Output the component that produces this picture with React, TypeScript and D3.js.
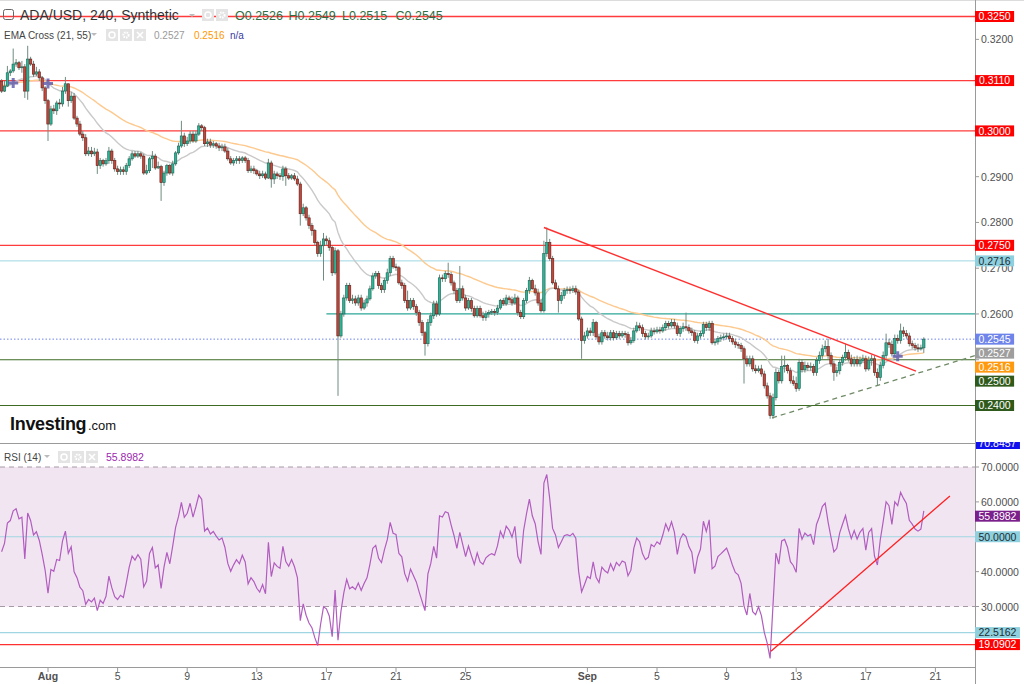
import React from 'react';
import * as d3 from 'd3';

// ---------------- DATA (prices in units of 0.0001) ----------------
const PRICE_UNIT = 0.0001;
const FIRST_OPEN = 3109;
const closes = [
  3087,3098,3127,3131,3146,3149,3138,3140,3087,3157,
  3146,3124,3129,3116,3094,3066,3015,3048,3044,3061,
  3059,3087,3103,3066,3076,3028,3015,2993,2985,2950,
  2956,2950,2954,2924,2935,2928,2935,2956,2935,2917,
  2911,2915,2911,2924,2939,2950,2945,2950,2945,2908,
  2913,2939,2945,2919,2922,2887,2908,2924,2908,2928,
  2952,2967,2989,2972,2978,2993,2978,2993,3011,3007,
  2972,2976,2969,2972,2967,2963,2965,2956,2939,2930,
  2935,2939,2935,2941,2935,2913,2917,2913,2906,2902,
  2906,2897,2930,2895,2906,2902,2900,2917,2902,2897,
  2902,2895,2884,2819,2832,2810,2793,2782,2756,2732,
  2749,2764,2760,2745,2690,2738,2552,2600,2635,2662,
  2629,2633,2624,2635,2613,2624,2633,2655,2683,2688,
  2662,2653,2673,2690,2721,2703,2701,2668,2662,2629,
  2613,2629,2616,2603,2581,2559,2535,2581,2596,2622,
  2600,2679,2677,2688,2686,2668,2651,2629,2655,2635,
  2613,2629,2612,2596,2612,2596,2592,2600,2603,2605,
  2603,2613,2629,2622,2635,2631,2624,2635,2603,2594,
  2629,2651,2673,2655,2646,2624,2607,2732,2756,2721,
  2668,2655,2629,2640,2651,2653,2651,2655,2648,2589,
  2542,2552,2563,2559,2581,2550,2539,2559,2552,2548,
  2559,2548,2557,2552,2557,2555,2537,2542,2563,2574,
  2570,2557,2550,2552,2563,2561,2565,2563,2570,2579,
  2574,2581,2574,2557,2568,2572,2570,2563,2559,2542,
  2552,2557,2577,2570,2579,2537,2539,2546,2548,2550,
  2552,2546,2539,2533,2531,2524,2502,2491,2502,2480,
  2476,2480,2469,2443,2421,2378,2417,2472,2454,2485,
  2487,2476,2454,2448,2437,2494,2478,2487,2483,2485,
  2472,2498,2509,2524,2529,2509,2491,2472,2476,2494,
  2505,2516,2502,2491,2500,2491,2498,2502,2480,2498,
  2502,2472,2461,2487,2509,2537,2533,2513,2546,2542,
  2563,2557,2552,2535,2531,2526,2524,2526,2545,
];
const highs = [
  3113,3109,3142,3135,3180,3157,3153,3153,3146,3186,
  3162,3153,3140,3135,3120,3098,3070,3055,3057,3066,
  3070,3096,3118,3098,3085,3083,3033,3022,3000,2993,
  2965,2965,2963,2961,2941,2939,2941,2965,2961,2941,
  2924,2922,2922,2930,2945,2956,2956,2956,2954,2950,
  2926,2943,2956,2950,2933,2926,2913,2928,2928,2935,
  2956,2974,3022,2996,2987,3000,3000,3000,3017,3015,
  3011,2983,2983,2978,2976,2974,2972,2972,2963,2945,
  2941,2945,2945,2945,2945,2941,2924,2924,2917,2913,
  2913,2911,2939,2935,2913,2911,2908,2924,2922,2908,
  2906,2908,2902,2889,2841,2836,2817,2799,2786,2760,
  2760,2777,2771,2767,2749,2745,2742,2607,2642,2668,
  2668,2642,2640,2642,2642,2631,2640,2662,2690,2694,
  2694,2668,2679,2699,2727,2727,2710,2705,2675,2668,
  2651,2635,2635,2622,2609,2587,2563,2589,2603,2629,
  2629,2686,2686,2694,2712,2692,2673,2657,2705,2662,
  2642,2635,2635,2618,2618,2618,2605,2607,2609,2611,
  2611,2620,2633,2635,2642,2640,2638,2644,2640,2609,
  2635,2657,2681,2677,2664,2655,2633,2760,2789,2764,
  2727,2675,2662,2648,2657,2660,2660,2662,2662,2653,
  2594,2561,2570,2570,2589,2585,2557,2565,2565,2561,
  2565,2565,2563,2563,2563,2563,2561,2550,2570,2583,
  2581,2577,2563,2559,2570,2570,2572,2572,2577,2585,
  2585,2589,2589,2581,2574,2581,2603,2577,2570,2565,
  2559,2563,2583,2583,2585,2585,2546,2552,2555,2557,
  2559,2559,2552,2546,2539,2537,2529,2509,2509,2509,
  2489,2487,2489,2476,2450,2428,2426,2481,2478,2509,
  2509,2491,2483,2465,2463,2502,2500,2496,2494,2494,
  2491,2505,2518,2533,2542,2546,2516,2498,2485,2502,
  2511,2535,2522,2511,2507,2509,2507,2511,2509,2507,
  2511,2509,2481,2496,2518,2557,2546,2542,2555,2555,
  2579,2572,2565,2559,2542,2537,2535,2533,2549,
];
const lows = [
  3083,3085,3096,3120,3127,3140,3133,3127,3072,3068,
  3142,3118,3120,3109,3087,3059,2978,3011,3037,3035,
  3048,3053,3081,3053,3061,3024,3009,2989,2978,2945,
  2945,2943,2945,2906,2917,2922,2924,2928,2928,2911,
  2904,2904,2904,2904,2919,2935,2941,2941,2939,2904,
  2904,2908,2919,2915,2917,2847,2880,2902,2904,2902,
  2924,2948,2963,2965,2967,2972,2974,2974,2989,3000,
  2967,2965,2963,2963,2961,2956,2956,2952,2935,2926,
  2924,2928,2928,2930,2930,2908,2908,2906,2902,2895,
  2897,2893,2895,2876,2884,2895,2893,2891,2880,2893,
  2893,2891,2880,2793,2814,2804,2786,2771,2749,2725,
  2725,2673,2751,2738,2683,2686,2421,2548,2594,2629,
  2624,2622,2618,2618,2607,2609,2616,2629,2651,2677,
  2655,2646,2646,2666,2683,2699,2694,2664,2655,2624,
  2607,2609,2609,2596,2574,2552,2509,2529,2574,2589,
  2594,2596,2670,2670,2679,2662,2644,2624,2624,2629,
  2607,2609,2605,2592,2592,2592,2585,2585,2592,2598,
  2596,2598,2609,2618,2618,2624,2618,2620,2596,2589,
  2589,2624,2644,2653,2640,2618,2603,2603,2725,2716,
  2664,2653,2603,2622,2633,2644,2644,2646,2642,2585,
  2502,2535,2546,2552,2552,2546,2533,2533,2546,2542,
  2542,2542,2544,2546,2548,2548,2531,2533,2537,2559,
  2563,2550,2544,2546,2548,2555,2557,2557,2559,2563,
  2568,2570,2568,2552,2550,2561,2563,2557,2552,2537,
  2535,2546,2550,2563,2563,2533,2531,2533,2539,2542,
  2544,2539,2533,2526,2524,2517,2448,2485,2485,2474,
  2470,2472,2463,2437,2415,2371,2371,2411,2448,2448,
  2472,2470,2448,2443,2430,2432,2472,2472,2476,2476,
  2465,2465,2491,2502,2516,2502,2485,2454,2463,2468,
  2487,2498,2496,2485,2485,2485,2485,2494,2474,2476,
  2487,2465,2443,2454,2481,2502,2526,2507,2507,2535,
  2535,2550,2546,2529,2524,2520,2517,2520,2515,
];

const START = new Date(2023, 6, 29, 8);
const BAR_MS = 4 * 3600 * 1000;

const EMA_FAST = 21;
const EMA_SLOW = 55;
const EMA_FAST_SEED = 0.3095;
const EMA_SLOW_SEED = 0.31;
const EMA_CROSS_BARS = [4, 16, 309];
const EMA_LAST = [0.2527, 0.2516];
const RSI_LEN = 14;
const RSI_SEED_GAIN = 0.0009;
const RSI_SEED_LOSS = 0.0009;
const RSI_LAST = 55.8982;

const RED_LEVELS = [0.325, 0.311, 0.3, 0.275];
const GREEN_LEVELS = [0.25, 0.24];
const INFO_LEVEL = 0.2716;
const RAY_LEVEL = 0.26;
const RAY_START = new Date(2023, 7, 17, 0);
const OHLC_LABELS = ['O', 'H', 'L', 'C'];
const OHLC_VALUES = [0.2526, 0.2549, 0.2515, 0.2545];

const DOWN_TREND = [{ bar: 187, price: 0.2789 }, { bar: 315.3, price: 0.2475 }];
const UP_TREND = [{ bar: 265.7, price: 0.2373 }, { bar: 330.5, price: 0.2499 }];
const RSI_TREND = [{ bar: 265.3, value: 17.2 }, { bar: 327, value: 61.7 }];

const RSI_INFO_LEVELS = [50, 22.5162];
const RSI_RED_LEVEL = 19.0902;
const RSI_BAND = [30, 70];
const RSI_CLIPPED_VALUE = 70.8457;

const PRICE_TICKS = [0.24, 0.25, 0.26, 0.27, 0.28, 0.29, 0.3, 0.31, 0.32];
const RSI_TICKS = [30, 40, 50, 60, 70];
const TIME_TICKS = [
  new Date(2023, 7, 1), new Date(2023, 7, 5), new Date(2023, 7, 9), new Date(2023, 7, 13),
  new Date(2023, 7, 17), new Date(2023, 7, 21), new Date(2023, 7, 25), new Date(2023, 8, 1),
  new Date(2023, 8, 5), new Date(2023, 8, 9), new Date(2023, 8, 13), new Date(2023, 8, 17),
  new Date(2023, 8, 21),
];

// ---------------- LAYOUT / STYLE ----------------
const W = 1024;
const H = 684;
const PLOT_R = 975;
const MAIN_BOTTOM = 443;
const RSI_TOP = 444;
const RSI_BOTTOM = 667;
const FONT = 'Liberation Sans, Arial, sans-serif';
const LBL_H = 11;

const C = {
  upFill: '#2bb596', upStroke: '#1f5f52', downFill: '#c2463a', downStroke: '#5e1d17', wick: '#6f8c80',
  red: '#ff1a1a', green: '#3d6b24', greenLbl: '#2f5a1b', info: '#9fd6e2', infoLbl: '#8fd0de',
  teal: '#2ba597', blue: '#6e84ea', ema21: '#c9c9c9', ema55: '#fdc98e', cross: '#5a58ad',
  rsi: '#b15dbf', rsiBand: '#f2e5f2', axisText: '#505050', axis: '#9a9a9a',
};

type Lbl = { v: number; y: number; bg: string; fg: string };

function bounded(list: Lbl[], gap: number) {
  const s = [...list].sort((a, b) => a.y - b.y);
  for (let i = 1; i < s.length; i++) if (s[i].y < s[i - 1].y + gap) s[i].y = s[i - 1].y + gap;
  return s;
}

function Icons({ x, y, n }: { x: number; y: number; n: number }) {
  const items = [];
  for (let k = 0; k < n; k++) {
    const ix = x + k * 14;
    items.push(
      <g key={k}>
        <rect x={ix} y={y} width={12} height={12} fill="#e4e4e4" />
        {k === 0 && <circle cx={ix + 6} cy={y + 6} r={3} fill="none" stroke="#fff" strokeWidth={1.5} />}
        {k === 1 && <circle cx={ix + 6} cy={y + 6} r={2.6} fill="none" stroke="#fff" strokeWidth={2} strokeDasharray="1.5 1" />}
        {k === 2 && <path d={`M${ix + 3},${y + 3}L${ix + 9},${y + 9}M${ix + 9},${y + 3}L${ix + 3},${y + 9}`} stroke="#fff" strokeWidth={1.6} />}
      </g>
    );
  }
  return <g>{items}</g>;
}

const labelWidth = (s: string) => 7 + s.replace('.', '').length * 5.84 + 2.9;

export default function App() {
  const barTime = (b: number) => new Date(START.getTime() + b * BAR_MS);
  const x = d3.scaleTime().domain([new Date(2023, 7, 5), new Date(2023, 8, 21)]).range([117.6, 935.4]);
  const y = d3.scaleLinear().domain([0.325, 0.24]).range([16.5, 405.5]);
  const yR = d3.scaleLinear().domain([70, 30]).range([467, 606.5]);

  const bars = closes.map((c, i) => {
    const o = (i === 0 ? FIRST_OPEN : closes[i - 1]) * PRICE_UNIT;
    const cl = c * PRICE_UNIT;
    return {
      t: barTime(i), o, c: cl,
      h: Math.max(highs[i] * PRICE_UNIT, o, cl),
      l: Math.min(lows[i] * PRICE_UNIT, o, cl),
    };
  });

  const ema = (n: number, seed: number) => {
    const k = 2 / (n + 1);
    let e = seed;
    return bars.map((b) => (e = e + k * (b.c - e)));
  };
  const emaFast = ema(EMA_FAST, EMA_FAST_SEED);
  const emaSlow = ema(EMA_SLOW, EMA_SLOW_SEED);

  let ag = RSI_SEED_GAIN, al = RSI_SEED_LOSS, prev = FIRST_OPEN * PRICE_UNIT;
  const rsi = bars.map((b) => {
    const ch = b.c - prev;
    prev = b.c;
    ag = (ag * (RSI_LEN - 1) + Math.max(ch, 0)) / RSI_LEN;
    al = (al * (RSI_LEN - 1) + Math.max(-ch, 0)) / RSI_LEN;
    return 100 - 100 / (1 + ag / al);
  });

  const lineMain = d3.line<number>().x((_, i) => x(bars[i].t)).y((v) => y(v));
  const lineRsi = d3.line<number>().x((_, i) => x(bars[i].t)).y((v) => yR(v));

  const dt = DOWN_TREND.map((p) => [x(barTime(p.bar)), y(p.price)]);
  const ut = UP_TREND.map((p) => [x(barTime(p.bar)), y(p.price)]);
  const utSlope = (ut[1][1] - ut[0][1]) / (ut[1][0] - ut[0][0]);
  const utEnd = [PLOT_R, ut[0][1] + utSlope * (PLOT_R - ut[0][0])];
  const rt = RSI_TREND.map((p) => [x(barTime(p.bar)), yR(p.value)]);

  const last = bars[bars.length - 1];
  const mainLabels = bounded(
    [
      ...RED_LEVELS.map((v) => ({ v, y: y(v), bg: '#ff0000', fg: '#fff' })),
      { v: INFO_LEVEL, y: y(INFO_LEVEL), bg: C.infoLbl, fg: '#1d2d33' },
      { v: last.c, y: y(last.c), bg: C.blue, fg: '#fff' },
      { v: EMA_LAST[0], y: y(EMA_LAST[0]), bg: '#9e9e9e', fg: '#fff' },
      { v: EMA_LAST[1], y: y(EMA_LAST[1]), bg: '#ff9a10', fg: '#fff' },
      ...GREEN_LEVELS.map((v) => ({ v, y: y(v), bg: C.greenLbl, fg: '#fff' })),
    ],
    14
  );
  const rsiLabels = bounded(
    [
      { v: RSI_LAST, y: yR(RSI_LAST), bg: '#7b1f8c', fg: '#fff' },
      ...RSI_INFO_LEVELS.map((v) => ({ v, y: yR(v), bg: C.infoLbl, fg: '#1d2d33' })),
      { v: RSI_RED_LEVEL, y: yR(RSI_RED_LEVEL), bg: '#ff0000', fg: '#fff' },
    ],
    LBL_H + 1
  );

  const visibleTick = (ty: number, lbls: Lbl[]) => lbls.every((l) => Math.abs(l.y - ty) >= 7);

  const label = (l: Lbl, key: string | number) => {
    const s = l.v.toFixed(4);
    const w = labelWidth(s);
    return (
      <g key={key}>
        <rect x={PLOT_R} y={l.y - LBL_H / 2} width={w} height={LBL_H} fill={l.bg} />
        <text x={PLOT_R + w / 2} y={l.y + 3.8} textAnchor="middle" fontSize={10.5} fill={l.fg}>
          {s}
        </text>
      </g>
    );
  };

  const fmtMonth = d3.timeFormat('%b');

  return (
    <svg width={W} height={H} style={{ position: 'absolute', left: 0, top: 0, display: 'block', background: '#fff' }} fontFamily={FONT}>
      <defs>
        <clipPath id="mainClip"><rect x={0} y={0} width={PLOT_R} height={MAIN_BOTTOM} /></clipPath>
        <clipPath id="rsiClip"><rect x={0} y={RSI_TOP} width={PLOT_R} height={RSI_BOTTOM - RSI_TOP} /></clipPath>
        <clipPath id="blueClip"><rect x={PLOT_R + 1} y={442} width={50} height={7} /></clipPath>
      </defs>

      {/* ---------- MAIN PANE ---------- */}
      <g clipPath="url(#mainClip)">
        {RED_LEVELS.map((v) => (
          <line key={v} x1={0} x2={PLOT_R} y1={y(v)} y2={y(v)} stroke={C.red} strokeWidth={1.3} opacity={0.85} />
        ))}
        <line x1={0} x2={PLOT_R} y1={y(INFO_LEVEL)} y2={y(INFO_LEVEL)} stroke={C.info} strokeWidth={1} />
        <line x1={x(RAY_START)} x2={PLOT_R} y1={y(RAY_LEVEL)} y2={y(RAY_LEVEL)} stroke={C.teal} strokeWidth={1.2} />
        {GREEN_LEVELS.map((v) => (
          <line key={v} x1={0} x2={PLOT_R} y1={y(v)} y2={y(v)} stroke={C.green} strokeWidth={1.2} />
        ))}
        <line x1={0} x2={PLOT_R} y1={y(last.c)} y2={y(last.c)} stroke={C.blue} strokeWidth={1} strokeDasharray="1.5 2" />

        <path d={lineMain(emaSlow) || ''} fill="none" stroke={C.ema55} strokeWidth={1.4} />
        <path d={lineMain(emaFast) || ''} fill="none" stroke={C.ema21} strokeWidth={1.4} />

        {bars.map((b, i) => {
          const cx = x(b.t);
          const up = b.c >= b.o;
          const yt = y(Math.max(b.o, b.c));
          const yb = y(Math.min(b.o, b.c));
          return (
            <g key={i}>
              <line x1={cx} x2={cx} y1={y(b.h)} y2={y(b.l)} stroke={C.wick} strokeWidth={1} />
              <rect x={cx - 1.2} y={yt} width={2.4} height={Math.max(yb - yt, 0.8)}
                fill={up ? C.upFill : C.downFill} stroke={up ? C.upStroke : C.downStroke} strokeWidth={0.6} />
            </g>
          );
        })}

        {EMA_CROSS_BARS.map((b) => {
          const cx = x(bars[b].t);
          const cy = y(emaFast[b]);
          return (
            <path key={b} d={`M${cx - 5},${cy}H${cx + 5}M${cx},${cy - 5}V${cy + 5}`} stroke={C.cross} strokeWidth={3} opacity={0.8} />
          );
        })}

        <line x1={dt[0][0]} y1={dt[0][1]} x2={dt[1][0]} y2={dt[1][1]} stroke="#ff3030" strokeWidth={1.4} />
        <line x1={ut[0][0]} y1={ut[0][1]} x2={utEnd[0]} y2={utEnd[1]} stroke="#6f8a66" strokeWidth={1.3} strokeDasharray="5 4" />
      </g>

      {/* header */}
      <rect x={3.5} y={9.5} width={10} height={10} rx={2} fill="none" stroke="#666" />
      <text x={20} y={20} fontSize={14} fill="#333">ADA/USD, 240, Synthetic</text>
      <path d="M189,14l3,3l3,-3z" fill="#bbb" />
      <Icons x={202} y={9} n={2} />
      <text y={20} fontSize={12.5} fill="#2f6d44">
        {OHLC_LABELS.map((k, i) => (
          <tspan key={k} x={235 + i * 53.5}>{k}{OHLC_VALUES[i].toFixed(4)}</tspan>
        ))}
      </text>
      <text x={4} y={39} fontSize={10} fill="#444">EMA Cross (21, 55)</text>
      <path d="M91,33l3,3l3,-3z" fill="#bbb" />
      <Icons x={106} y={29} n={3} />
      <text x={154} y={39} fontSize={10} fill="#9a9a9a">{EMA_LAST[0].toFixed(4)}</text>
      <text x={194} y={39} fontSize={10} fill="#ff9800">{EMA_LAST[1].toFixed(4)}</text>
      <text x={230} y={39} fontSize={10} fill="#3a3aa0">n/a</text>

      {/* logo */}
      <text x={10} y={430} fontSize={18} fontWeight="bold" fill="#111" letterSpacing={-0.3}>Investing</text>
      <text x={88} y={430} fontSize={13} fill="#111">.com</text>

      {/* ---------- RSI PANE ---------- */}
      <g clipPath="url(#rsiClip)">
        <rect x={0} y={yR(RSI_BAND[1])} width={PLOT_R} height={yR(RSI_BAND[0]) - yR(RSI_BAND[1])} fill={C.rsiBand} />
        {RSI_BAND.map((v) => (
          <line key={v} x1={0} x2={PLOT_R} y1={yR(v)} y2={yR(v)} stroke="#a69aa6" strokeWidth={1} strokeDasharray="5 4" />
        ))}
        {RSI_INFO_LEVELS.map((v) => (
          <line key={v} x1={0} x2={PLOT_R} y1={yR(v)} y2={yR(v)} stroke={C.info} strokeWidth={1.2} />
        ))}
        <line x1={0} x2={PLOT_R} y1={yR(RSI_RED_LEVEL)} y2={yR(RSI_RED_LEVEL)} stroke="#ff3030" strokeWidth={1.3} />
        <path d={lineRsi(rsi) || ''} fill="none" stroke={C.rsi} strokeWidth={1.2} />
        <line x1={rt[0][0]} y1={rt[0][1]} x2={rt[1][0]} y2={rt[1][1]} stroke="#ff2020" strokeWidth={1.3} />
      </g>
      <text x={4} y={461} fontSize={10} fill="#444">RSI (14)</text>
      <path d="M44,455l3,3l3,-3z" fill="#bbb" />
      <Icons x={58} y={451} n={3} />
      <text x={106} y={461} fontSize={10.5} fill="#9c27b0">{RSI_LAST.toFixed(4)}</text>

      {/* ---------- frames ---------- */}
      <line x1={0} x2={W} y1={0.5} y2={0.5} stroke="#dcdcdc" />
      <line x1={0} x2={PLOT_R} y1={MAIN_BOTTOM + 0.5} y2={MAIN_BOTTOM + 0.5} stroke={C.axis} />
      <line x1={0} x2={PLOT_R} y1={RSI_BOTTOM + 0.5} y2={RSI_BOTTOM + 0.5} stroke={C.axis} />
      <line x1={PLOT_R + 0.5} x2={PLOT_R + 0.5} y1={0} y2={H} stroke={C.axis} />

      {/* price axis */}
      {PRICE_TICKS.map((v) => (
        <g key={v}>
          <line x1={PLOT_R} x2={PLOT_R + 4} y1={y(v)} y2={y(v)} stroke={C.axis} />
          {visibleTick(y(v), mainLabels) && (
            <text x={PLOT_R + 6} y={y(v) + 4} fontSize={10.5} fill={C.axisText}>{v.toFixed(4)}</text>
          )}
        </g>
      ))}
      {mainLabels.map((l, i) => label(l, 'm' + i))}

      {/* rsi axis */}
      {RSI_TICKS.map((v) => (
        <g key={v}>
          <line x1={PLOT_R} x2={PLOT_R + 4} y1={yR(v)} y2={yR(v)} stroke={C.axis} />
          {visibleTick(yR(v), rsiLabels) && (
            <text x={PLOT_R + 6} y={yR(v) + 4} fontSize={10.5} fill={C.axisText}>{v.toFixed(4)}</text>
          )}
        </g>
      ))}
      {rsiLabels.map((l, i) => label(l, 'r' + i))}
      <g clipPath="url(#blueClip)">
        <rect x={PLOT_R} y={438} width={labelWidth(RSI_CLIPPED_VALUE.toFixed(4))} height={LBL_H} fill="#1010ee" />
        <text x={PLOT_R + labelWidth(RSI_CLIPPED_VALUE.toFixed(4)) / 2} y={447} textAnchor="middle" fontSize={10.5} fill="#fff">
          {RSI_CLIPPED_VALUE.toFixed(4)}
        </text>
      </g>

      {/* time axis */}
      {TIME_TICKS.map((d, i) => {
        const tx = x(d);
        const isMonth = d.getDate() === 1;
        return (
          <g key={i}>
            <line x1={tx} x2={tx} y1={RSI_BOTTOM + 1} y2={RSI_BOTTOM + 5} stroke={C.axis} />
            <text x={tx} y={680} textAnchor="middle" fontSize={10.5} fill={C.axisText} fontWeight={isMonth ? 'bold' : 'normal'}>
              {isMonth ? fmtMonth(d) : String(d.getDate())}
            </text>
          </g>
        );
      })}
    </svg>
  );
}
